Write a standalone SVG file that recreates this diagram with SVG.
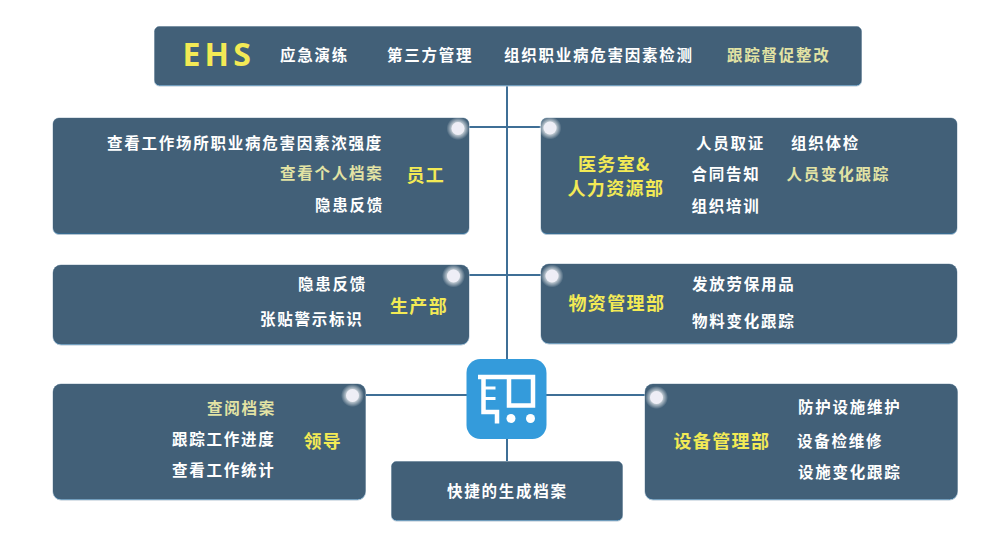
<svg xmlns="http://www.w3.org/2000/svg" width="984" height="546" viewBox="0 0 984 546">
<defs>
<radialGradient id="g"><stop offset="0.5" stop-color="#ffffff" stop-opacity="0.75"/><stop offset="1" stop-color="#ffffff" stop-opacity="0"/></radialGradient>
</defs>
<style>
.b{fill:#426078}
.u{fill:#2f76a8;stroke:#b4c4d1;stroke-width:1}
.c{fill:none;stroke:#3f6f96;stroke-width:2}
text{font-family:"Noto Sans CJK SC","Noto Sans",sans-serif;font-weight:700;font-size:15.5px;letter-spacing:1.75px;fill:#fff}
.y{fill:#f3ea55;font-size:18px;letter-spacing:1.35px}
.p{fill:#e2e3a4}
.h{fill:url(#g)}
.d{fill:#eeeef6}
.w{fill:none;stroke:#fff}
</style>
<rect width="984" height="546" fill="#fff"/>
<g id="connectors" class="c">
<path d="M507 85V360M469 127H541M469 275H541M365 395H467M546 395H646M507 439V462"/>
</g>
<g id="ehs"><rect class="u" x="154.500" y="26.500" width="707" height="59.500" rx="5"/><rect class="b" x="154.500" y="26.500" width="707" height="58.500" rx="5"/>
<text x="182.500" y="66" style="font-family:'Noto Sans','Liberation Sans',sans-serif;font-size:32px;font-weight:700;letter-spacing:4.200px;fill:#f3ea55">EHS</text>
<text x="280" y="61">应急演练</text><text x="387" y="61">第三方管理</text><text x="504" y="61">组织职业病危害因素检测</text><text class="p" x="727" y="61">跟踪督促整改</text></g>
<g id="staff"><rect class="u" x="53" y="118" width="416" height="116.500" rx="6"/><rect class="b" x="53" y="118" width="416" height="115.500" rx="6"/>
<circle class="h" cx="458" cy="128.500" r="11.500"/><circle class="d" cx="458" cy="128.500" r="6.500"/>
<text x="107" y="149">查看工作场所职业病危害因素浓强度</text><text class="p" x="280" y="179">查看个人档案</text><text x="315" y="211">隐患反馈</text><text class="y" x="406.500" y="182">员工</text></g>
<g id="medical"><rect class="u" x="541" y="118" width="416" height="116.500" rx="6"/><rect class="b" x="541" y="118" width="416" height="115.500" rx="6"/>
<circle class="h" cx="550" cy="128" r="11.500"/><circle class="d" cx="550" cy="128" r="6.500"/>
<text class="y" x="578" y="171">医务室&amp;</text><text class="y" x="567.500" y="195">人力资源部</text>
<text x="696" y="149">人员取证</text><text x="791" y="149">组织体检</text><text x="691.500" y="180">合同告知</text><text class="p" x="786.500" y="180">人员变化跟踪</text><text x="691.500" y="211.500">组织培训</text></g>
<g id="production"><rect class="u" x="53" y="265" width="416" height="80" rx="8"/><rect class="b" x="53" y="265" width="416" height="79" rx="8"/>
<circle class="h" cx="453.500" cy="276" r="11.500"/><circle class="d" cx="453.500" cy="276" r="6.500"/>
<text x="298" y="290">隐患反馈</text><text x="260" y="325">张贴警示标识</text><text class="y" x="390" y="312.500">生产部</text></g>
<g id="material"><rect class="u" x="541" y="264" width="416" height="80" rx="8"/><rect class="b" x="541" y="264" width="416" height="79" rx="8"/>
<circle class="h" cx="552" cy="276" r="11.500"/><circle class="d" cx="552" cy="276" r="6.500"/>
<text class="y" x="568.500" y="309.500">物资管理部</text><text x="692" y="290">发放劳保用品</text><text x="692" y="326.500">物料变化跟踪</text></g>
<g id="leader"><rect class="u" x="53" y="384" width="312.500" height="116" rx="8"/><rect class="b" x="53" y="384" width="312.500" height="115" rx="8"/>
<circle class="h" cx="352.500" cy="395.500" r="11.500"/><circle class="d" cx="352.500" cy="395.500" r="6.500"/>
<text class="p" x="207" y="414">查阅档案</text><text x="172" y="445">跟踪工作进度</text><text x="172" y="476">查看工作统计</text><text class="y" x="303.500" y="447.500">领导</text></g>
<g id="equipment"><rect class="u" x="645" y="384" width="312.500" height="116" rx="8"/><rect class="b" x="645" y="384" width="312.500" height="115" rx="8"/>
<circle class="h" cx="656.500" cy="397.500" r="11.500"/><circle class="d" cx="656.500" cy="397.500" r="6.500"/>
<text class="y" x="673.500" y="447.500">设备管理部</text><text x="798" y="412.500">防护设施维护</text><text x="797" y="446.500">设备检维修</text><text x="798" y="478">设施变化跟踪</text></g>
<g id="icon"><rect x="466.500" y="359" width="80" height="80" rx="14" fill="#349bdb"/>
<path class="w" stroke-width="4.500" d="M478 377H533V405.500H509V377"/>
<path class="w" stroke-width="4.500" d="M483.500 377V412H497V423.500" stroke-linejoin="miter"/>
<path class="w" stroke-width="3" d="M483.500 388H495.500M483.500 398.500H495.500"/>
<circle cx="511" cy="418.500" r="4.500" fill="#fff"/><circle cx="530.500" cy="418.500" r="4.500" fill="#fff"/></g>
<g id="archive"><rect class="u" x="391.500" y="461.500" width="231" height="59.500" rx="5"/><rect class="b" x="391.500" y="461.500" width="231" height="58.500" rx="5"/>
<text x="447" y="496.500">快捷的生成档案</text></g>
</svg>
